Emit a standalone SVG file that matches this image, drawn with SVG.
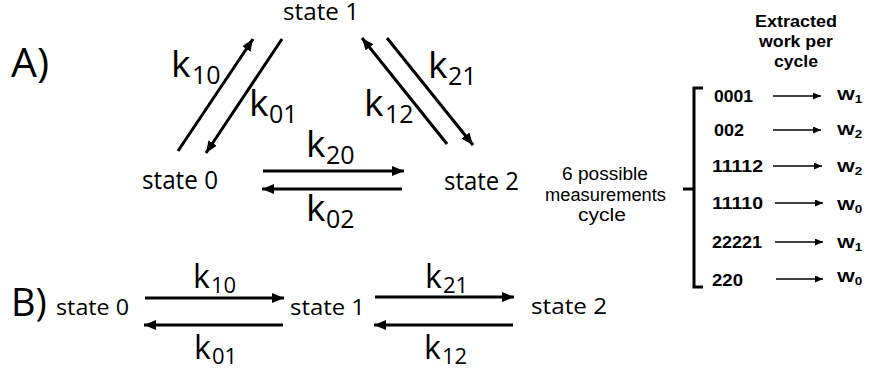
<svg xmlns="http://www.w3.org/2000/svg" width="869" height="373" viewBox="0 0 869 373">
<defs>
<marker id="ah" markerUnits="userSpaceOnUse" markerWidth="14" markerHeight="12" refX="12" refY="5" orient="auto">
<path d="M0,0 L12,5 L0,10 z" fill="#000"/>
</marker>
<marker id="ahs" markerUnits="userSpaceOnUse" markerWidth="10" markerHeight="8" refX="8" refY="3.5" orient="auto">
<path d="M0,0 L8,3.5 L0,7 z" fill="#000"/>
</marker>
<style>
.st{font-family:"Open Sans","DejaVu Sans",sans-serif;fill:#000}
.k{font-family:"Open Sans","DejaVu Sans",sans-serif;fill:#000}
.ar{font-family:"Liberation Sans",Arial,sans-serif;fill:#000}
.b{font-weight:bold}
.c{stroke:#000;stroke-width:3;fill:none;marker-end:url(#ah)}
.cs{stroke:#000;stroke-width:1.5;fill:none;marker-end:url(#ahs)}
.br{stroke:#000;stroke-width:3;fill:none}
</style>
</defs>
<rect width="869" height="373" fill="#fff"/>

<!-- Panel labels -->
<text class="st" x="11" y="77" font-size="41">A)</text>
<text class="st" x="11" y="316" font-size="38">B)</text>

<!-- Panel A nodes -->
<g id="A-state1"><text class="st" x="283" y="20" font-size="24" textLength="76" lengthAdjust="spacingAndGlyphs">state 1</text></g>
<g id="A-state0"><text class="st" x="142" y="189" font-size="25" textLength="76" lengthAdjust="spacingAndGlyphs">state 0</text></g>
<g id="A-state2"><text class="st" x="444" y="190" font-size="25" textLength="75" lengthAdjust="spacingAndGlyphs">state 2</text></g>

<!-- Panel B nodes -->
<g id="B-state0"><text class="st" x="56" y="315" font-size="22" textLength="73" lengthAdjust="spacingAndGlyphs">state 0</text></g>
<g id="B-state1"><text class="st" x="290" y="315" font-size="22" textLength="75" lengthAdjust="spacingAndGlyphs">state 1</text></g>
<g id="B-state2"><text class="st" x="531" y="314" font-size="22" textLength="76" lengthAdjust="spacingAndGlyphs">state 2</text></g>

<!-- Connectors -->
<g id="connectors">
<line class="c" x1="178" y1="151" x2="253" y2="39"/>
<line class="c" x1="282" y1="39" x2="206" y2="153"/>
<line class="c" x1="447" y1="144" x2="362" y2="38"/>
<line class="c" x1="387" y1="38" x2="473" y2="145"/>
<line class="c" x1="263" y1="171" x2="404" y2="171"/>
<line class="c" x1="402" y1="189" x2="262" y2="189"/>
<line class="c" x1="145" y1="298" x2="284" y2="298"/>
<line class="c" x1="283" y1="325" x2="144" y2="325"/>
<line class="c" x1="375" y1="297" x2="514" y2="297"/>
<line class="c" x1="513" y1="325" x2="374" y2="325"/>
</g>

<!-- Rate labels A -->
<g id="labels-A">
<text class="k" x="171" y="77" font-size="37">k<tspan x="192" dy="7" font-size="25">10</tspan></text>
<text class="k" x="249" y="116" font-size="37">k<tspan x="269" dy="7" font-size="25">01</tspan></text>
<text class="k" x="364" y="116" font-size="37">k<tspan x="385" dy="7" font-size="25">12</tspan></text>
<text class="k" x="428" y="78" font-size="37">k<tspan x="448" dy="7" font-size="25">21</tspan></text>
<text class="k" x="306" y="157" font-size="37">k<tspan x="326" dy="7" font-size="25">20</tspan></text>
<text class="k" x="306" y="221" font-size="37">k<tspan x="326" dy="7" font-size="25">02</tspan></text>
</g>

<!-- Rate labels B -->
<g id="labels-B">
<text class="k" x="193" y="288" font-size="32">k<tspan x="211" dy="5" font-size="22">10</tspan></text>
<text class="k" x="194" y="359" font-size="32">k<tspan x="212" dy="5" font-size="22">01</tspan></text>
<text class="k" x="425" y="288" font-size="32">k<tspan x="443" dy="5" font-size="22">21</tspan></text>
<text class="k" x="424" y="359" font-size="32">k<tspan x="442" dy="5" font-size="22">12</tspan></text>
</g>

<!-- Measurements note -->
<g id="note">
<text class="ar" x="562" y="180" font-size="17.5" textLength="86" lengthAdjust="spacingAndGlyphs">6 possible</text>
<text class="ar" x="545" y="201" font-size="17.5" textLength="121" lengthAdjust="spacingAndGlyphs">measurements</text>
<text class="ar" x="578" y="221" font-size="17.5" textLength="48" lengthAdjust="spacingAndGlyphs">cycle</text>
</g>

<!-- Brace -->
<g id="brace">
<path class="br" d="M703,88 L694,88 L694,287 L703,287 M683,189 L694,189"/>
</g>

<!-- Header -->
<g id="header">
<text class="ar b" x="755" y="27" font-size="17" textLength="82" lengthAdjust="spacingAndGlyphs">Extracted</text>
<text class="ar b" x="759" y="47" font-size="17" textLength="74" lengthAdjust="spacingAndGlyphs">work per</text>
<text class="ar b" x="774" y="67" font-size="17" textLength="44" lengthAdjust="spacingAndGlyphs">cycle</text>
</g>

<!-- List -->
<g id="list">
<text class="ar b" x="714" y="102" font-size="16.5" textLength="39" lengthAdjust="spacingAndGlyphs">0001</text>
<text class="ar b" x="714" y="136" font-size="16.5" textLength="30" lengthAdjust="spacingAndGlyphs">002</text>
<text class="ar b" x="712" y="172" font-size="16.5" textLength="51" lengthAdjust="spacingAndGlyphs">11112</text>
<text class="ar b" x="712" y="209" font-size="16.5" textLength="51" lengthAdjust="spacingAndGlyphs">11110</text>
<text class="ar b" x="712" y="248" font-size="16.5" textLength="50" lengthAdjust="spacingAndGlyphs">22221</text>
<text class="ar b" x="712" y="286" font-size="16.5" textLength="31" lengthAdjust="spacingAndGlyphs">220</text>
</g>
<g id="list-arrows">
<line class="cs" x1="773" y1="96" x2="821" y2="96"/>
<line class="cs" x1="773" y1="130" x2="821" y2="130"/>
<line class="cs" x1="773" y1="166" x2="822" y2="166"/>
<line class="cs" x1="775" y1="203" x2="823" y2="203"/>
<line class="cs" x1="775" y1="242" x2="823" y2="242"/>
<line class="cs" x1="776" y1="279" x2="823" y2="279"/>
</g>
<g id="work" class="ar b">
<g transform="translate(837,100) scale(1.35,1)"><text x="0" y="0" font-size="14">W<tspan dy="3" font-size="10">1</tspan></text></g>
<g transform="translate(837,135) scale(1.35,1)"><text x="0" y="0" font-size="14">W<tspan dy="3" font-size="10">2</tspan></text></g>
<g transform="translate(837,172) scale(1.35,1)"><text x="0" y="0" font-size="14">W<tspan dy="3" font-size="10">2</tspan></text></g>
<g transform="translate(837,210) scale(1.35,1)"><text x="0" y="0" font-size="14">W<tspan dy="3" font-size="10">0</tspan></text></g>
<g transform="translate(837,248) scale(1.35,1)"><text x="0" y="0" font-size="14">W<tspan dy="3" font-size="10">1</tspan></text></g>
<g transform="translate(837,282) scale(1.35,1)"><text x="0" y="0" font-size="14">W<tspan dy="3" font-size="10">0</tspan></text></g>
</g>
</svg>
